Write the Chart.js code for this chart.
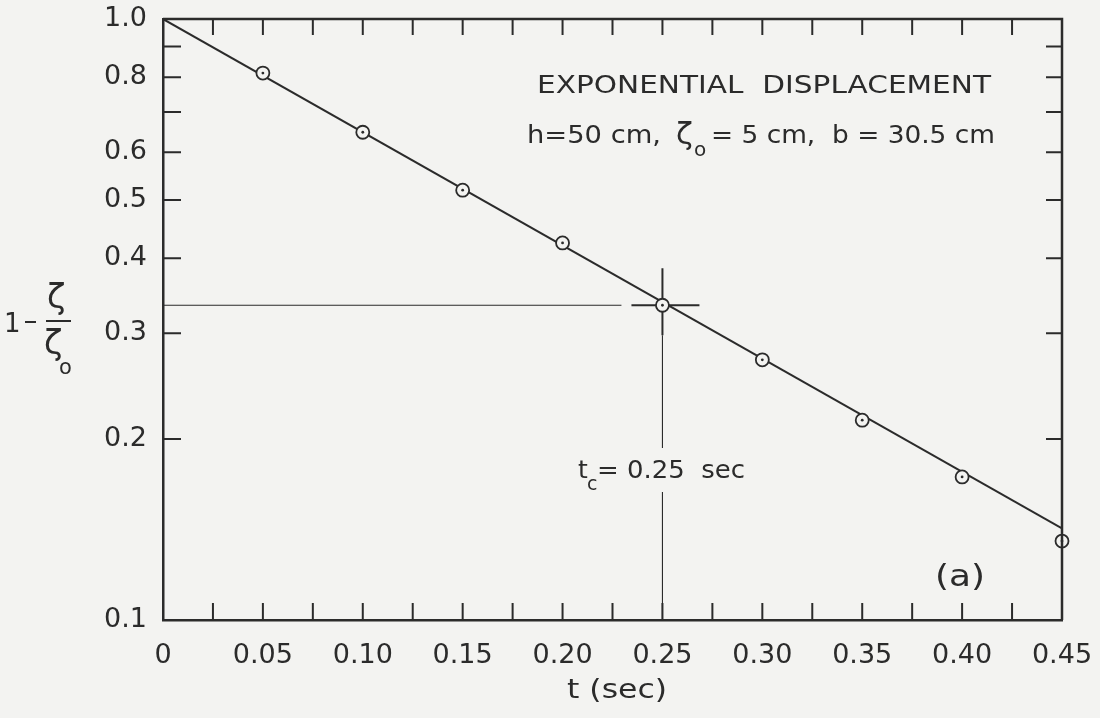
<!DOCTYPE html>
<html>
<head>
<meta charset="utf-8">
<script src="https://cdn.jsdelivr.net/npm/chart.js@4.4.1/dist/chart.umd.min.js"></script>
<style>
  html, body { margin: 0; padding: 0; background: #f3f3f1; }
  #wrap { width: 1100px; height: 718px; }
</style>
</head>
<body>
<div id="wrap"><canvas id="c" width="1100" height="718"></canvas></div>
<script>
// Measured ratio 1 - zeta/zeta0 against time (sec)
const timeSec = [0.05, 0.10, 0.15, 0.20, 0.25, 0.30, 0.35, 0.40, 0.45];
const displacementRatio = [0.813, 0.648, 0.519, 0.424, 0.334, 0.271, 0.215, 0.173, 0.1353];

// Fitted exponential (straight line on the log axis)
const fitTime = [0, 0.45];
const fitRatio = [1.0, 0.142];

// Time constant marker
const tcTime = 0.25;
const tcRatio = 0.334;

// Axis ticks
const xTickValues = [0, 0.025, 0.05, 0.075, 0.10, 0.125, 0.15, 0.175, 0.20, 0.225, 0.25, 0.275, 0.30, 0.325, 0.35, 0.375, 0.40, 0.425, 0.45];
const xTickLabels = ['0', '', '0.05', '', '0.10', '', '0.15', '', '0.20', '', '0.25', '', '0.30', '', '0.35', '', '0.40', '', '0.45'];
const yTickValues = [0.1, 0.2, 0.3, 0.4, 0.5, 0.6, 0.7, 0.8, 0.9, 1.0];
const yTickLabels = ['0.1', '0.2', '0.3', '0.4', '0.5', '0.6', '', '0.8', '', '1.0'];

const INK = '#2b2b2b';
const PAPER = '#f3f3f1';
const FONT = 'DejaVu Sans';

const zip = (xs, ys) => xs.map((x, i) => ({ x, y: ys[i] }));

// draw a string stretched horizontally so that it spans a given width
function stretched(ctx, text, x0, base, width) {
  const w = ctx.measureText(text).width;
  ctx.save();
  ctx.translate(x0, base);
  ctx.scale(width / w, 1);
  ctx.fillText(text, 0, 0);
  ctx.restore();
}

// Inward tick marks, frame, reference lines and lettering
const framePlugin = {
  id: 'frame',
  beforeDatasetsDraw(chart) {
    const { ctx, chartArea: a, scales: { x, y } } = chart;
    const px = x.getPixelForValue(tcTime);
    const py = y.getPixelForValue(tcRatio);
    ctx.save();
    ctx.strokeStyle = INK;
    ctx.lineCap = 'butt';
    // thin guide lines to the axes
    ctx.lineWidth = 1.1;
    ctx.beginPath();
    ctx.moveTo(a.left, py); ctx.lineTo(px - 41, py);
    ctx.moveTo(px, py + 30); ctx.lineTo(px, 448);
    ctx.moveTo(px, 492); ctx.lineTo(px, a.bottom);
    ctx.stroke();
    // crosshair arms
    ctx.lineWidth = 2;
    ctx.beginPath();
    ctx.moveTo(px - 31, py); ctx.lineTo(px + 37, py);
    ctx.moveTo(px, py - 37); ctx.lineTo(px, py + 30);
    ctx.stroke();
    ctx.restore();
  },
  afterDraw(chart) {
    const { ctx, chartArea: a, scales: { x, y } } = chart;
    ctx.save();
    ctx.strokeStyle = INK;
    ctx.fillStyle = INK;
    ctx.lineWidth = 2.5;
    // top and right frame
    ctx.beginPath();
    ctx.moveTo(a.left, a.top); ctx.lineTo(a.right, a.top); ctx.lineTo(a.right, a.bottom);
    ctx.stroke();
    // inward ticks
    ctx.lineWidth = 2;
    ctx.beginPath();
    xTickValues.forEach(v => {
      if (v === 0 || v === 0.45) return;
      const p = x.getPixelForValue(v);
      ctx.moveTo(p, a.bottom); ctx.lineTo(p, a.bottom - 17);
      ctx.moveTo(p, a.top); ctx.lineTo(p, a.top + 16);
    });
    yTickValues.forEach(v => {
      if (v === 0.1 || v === 1.0) return;
      const p = y.getPixelForValue(v);
      ctx.moveTo(a.left, p); ctx.lineTo(a.left + 18, p);
      ctx.moveTo(a.right, p); ctx.lineTo(a.right - 16, p);
    });
    ctx.stroke();

    // lettering
    ctx.textBaseline = 'alphabetic';
    ctx.textAlign = 'left';
    ctx.font = `25px "${FONT}"`;
    stretched(ctx, 'EXPONENTIAL  DISPLACEMENT', 537, 93, 454);

    ctx.font = `25px "${FONT}"`;
    stretched(ctx, 'h=50 cm,', 527, 143, 134);
    stretched(ctx, '= 5 cm,  b = 30.5 cm', 711, 143, 284);
    ctx.font = `31px "${FONT}"`;
    ctx.fillText('ζ', 676, 144);
    ctx.font = `20px "${FONT}"`;
    ctx.fillText('o', 694, 156);

    ctx.font = `25px "${FONT}"`;
    ctx.fillText('t', 578, 478);
    stretched(ctx, '= 0.25  sec', 597, 478, 148);
    ctx.font = `19px "${FONT}"`;
    ctx.fillText('c', 587, 490);

    ctx.font = `30px "${FONT}"`;
    stretched(ctx, '(a)', 935, 586, 50);

    ctx.font = `26px "${FONT}"`;
    stretched(ctx, 't (sec)', 567, 698, 100);

    // y-axis title: 1 - zeta / zeta0
    ctx.font = `26px "${FONT}"`;
    ctx.fillText('1', 4, 332);
    ctx.lineWidth = 2;
    ctx.beginPath();
    ctx.moveTo(25, 322); ctx.lineTo(36, 322);   // minus sign
    ctx.moveTo(46, 321); ctx.lineTo(71, 321);   // fraction bar
    ctx.stroke();
    ctx.font = `34px "${FONT}"`;
    ctx.fillText('ζ', 47, 308);
    ctx.fillText('ζ', 44, 354);
    ctx.font = `21px "${FONT}"`;
    ctx.fillText('o', 59, 374);
    ctx.restore();
  }
};

// drop the automatic label padding so the plot box sits where the layout puts it
const noScalePadding = s => { s.paddingTop = 0; s.paddingBottom = 0; s.paddingLeft = 0; s.paddingRight = 0; };

new Chart(document.getElementById('c'), {
  type: 'scatter',
  data: {
    datasets: [
      {
        // centre dots of the measured points
        data: zip(timeSec, displacementRatio),
        pointRadius: 1.4, pointBackgroundColor: INK, pointBorderWidth: 0,
        showLine: false, clip: false, order: 1
      },
      {
        data: zip(timeSec, displacementRatio),
        pointRadius: 6.5, pointBackgroundColor: PAPER, pointBorderColor: INK, pointBorderWidth: 1.8,
        showLine: false, clip: false, order: 2
      },
      {
        data: zip(fitTime, fitRatio),
        showLine: true, borderColor: INK, borderWidth: 2, pointRadius: 0, order: 3
      }
    ]
  },
  options: {
    responsive: false,
    animation: false,
    devicePixelRatio: 1,
    layout: { padding: { top: 19, right: 38, left: 0, bottom: 0 } },
    plugins: { legend: { display: false }, tooltip: { enabled: false } },
    scales: {
      x: {
        type: 'linear', min: 0, max: 0.45,
        afterBuildTicks: s => { s.ticks = xTickValues.map(v => ({ value: v })); },
        afterFit: s => { s.height = 98; noScalePadding(s); },
        ticks: {
          callback: (v, i) => xTickLabels[i],
          font: { family: FONT, size: 27 }, color: INK, padding: 20,
          maxRotation: 0, autoSkip: false
        },
        grid: { display: false, drawTicks: false },
        border: { display: true, color: INK, width: 2.5 }
      },
      y: {
        type: 'logarithmic', min: 0.1, max: 1.0,
        afterBuildTicks: s => { s.ticks = yTickValues.map(v => ({ value: v })); },
        afterFit: s => { s.width = 163; noScalePadding(s); },
        ticks: {
          callback: (v, i) => yTickLabels[i],
          font: { family: FONT, size: 27 }, color: INK, padding: 16,
          autoSkip: false
        },
        grid: { display: false, drawTicks: false },
        border: { display: true, color: INK, width: 2.5 }
      }
    }
  },
  plugins: [framePlugin]
});
</script>
</body>
</html>
